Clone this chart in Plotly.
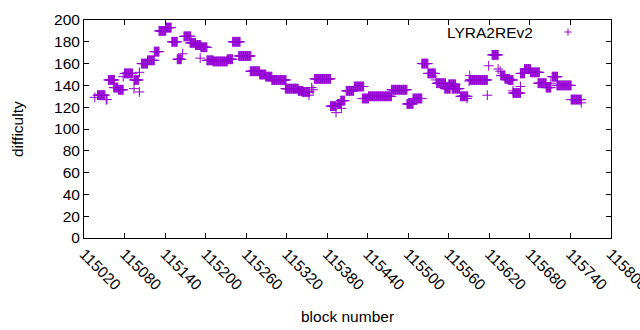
import plotly.graph_objects as go

# Runs of constant LYRA2REv2 difficulty: (first block, last block, difficulty)
run_start = [115036, 115040, 115053, 115056, 115064, 115071, 115078, 115080, 115094, 115094,
             115102, 115102, 115105, 115114, 115124, 115131, 115141,
             115150, 115158, 115166, 115168, 115177, 115185, 115192, 115193, 115202, 115211,
             115232, 115240, 115249, 115266,
             115280, 115289, 115298, 115318, 115331, 115337, 115343, 115353, 115357, 115359,
             115361, 115385, 115393, 115395, 115400, 115401,
             115408, 115420, 115432, 115441, 115475, 115498, 115507, 115520,
             115529, 115541, 115542, 115554, 115560, 115565, 115577, 115587, 115590, 115591,
             115591, 115617, 115619, 115624, 115633, 115636, 115637, 115643,
             115648, 115655, 115655, 115666, 115666, 115672, 115681, 115692, 115704, 115711,
             115713, 115720, 115741, 115756]
run_end = [115036, 115051, 115054, 115065, 115070, 115078, 115078, 115092, 115101, 115094,
           115102, 115102, 115114, 115124, 115131, 115141, 115149,
           115158, 115164, 115166, 115178, 115185, 115193, 115192, 115202, 115211, 115232,
           115240, 115251, 115267, 115280,
           115289, 115298, 115319, 115331, 115337, 115344, 115354, 115353, 115357, 115359,
           115385, 115393, 115393, 115400, 115406, 115401,
           115419, 115434, 115441, 115475, 115498, 115507, 115520, 115529,
           115540, 115541, 115555, 115562, 115570, 115576, 115588, 115587, 115590, 115591,
           115617, 115617, 115619, 115633, 115633, 115636, 115643, 115650,
           115655, 115655, 115666, 115666, 115672, 115681, 115694, 115704, 115711, 115711,
           115721, 115741, 115756, 115756]
run_value = [129, 131, 127, 145, 138, 136, 148, 151, 145, 137,
             152, 134, 160, 163, 171, 190, 193,
             180, 164, 169, 185, 179, 177, 165, 175, 163, 162,
             164, 180, 167, 153,
             150, 148, 145, 137, 137, 135, 134, 131, 138, 136,
             146, 121, 115, 123, 126, 119,
             135, 139, 128, 130, 136, 123, 128, 160,
             151, 145, 142, 137, 141, 137, 130, 128, 144, 149,
             145, 131, 158, 168, 155, 153, 149, 146,
             145, 135, 133, 139, 151, 155, 152, 142, 138, 142,
             148, 140, 127, 124]

x_ticks = list(range(115020, 115801, 60))
y_ticks = list(range(0, 201, 20))
series_name = "LYRA2REv2"

blocks, diffs = [], []
for s, e, v in zip(run_start, run_end, run_value):
    for b in range(s, e + 1):
        blocks.append(b)
        diffs.append(v)

COLOR = "#9400D3"
FONT = "Liberation Sans, Arial, sans-serif"
FS = 15.5

fig = go.Figure()
fig.add_trace(go.Scatter(
    x=blocks, y=diffs, mode="markers", name=series_name, showlegend=False,
    marker=dict(symbol="cross-thin", size=7, color=COLOR, line=dict(color=COLOR, width=1)),
))

L, R, T, B = 84, 29, 20, 92
fig.update_layout(
    width=640, height=330,
    margin=dict(l=L, r=R, t=T, b=B, pad=0, autoexpand=False),
    paper_bgcolor="white", plot_bgcolor="white",
    font=dict(family=FONT, size=FS, color="black"),
    showlegend=False,
)
fig.update_xaxes(
    range=[115020, 115800.05], tickmode="array", tickvals=x_ticks, ticktext=[str(t) for t in x_ticks],
    tickangle=45, ticks="inside", ticklen=5, tickcolor="black", ticklabeloverflow="allow",
    showline=True, linecolor="black", linewidth=1, mirror="ticks",
    showgrid=False, zeroline=False, automargin=False,
)
fig.update_yaxes(
    range=[0, 200], tickmode="array", tickvals=y_ticks,
    ticks="inside", ticklen=5, tickcolor="black",
    showline=True, linecolor="black", linewidth=1, mirror="ticks",
    showgrid=False, zeroline=False, automargin=False,
)

fig.add_annotation(text="block number", xref="paper", yref="paper", x=0.5, y=0,
                   yanchor="middle", yshift=-78, showarrow=False, font=dict(size=FS))
fig.add_annotation(text="difficulty", xref="paper", yref="paper", x=0, y=0.5,
                   xanchor="center", xshift=-67, textangle=-90, showarrow=False, font=dict(size=FS))
# legend entry (gnuplot style: text then sample)
fig.add_annotation(text=series_name, xref="paper", yref="paper", x=(535 - L) / 527, y=(238 - 32) / 218,
                   xanchor="right", yanchor="middle", showarrow=False, font=dict(size=FS))
lx, ly = (568 - L) / 527, (238 - 32) / 218
fig.add_shape(type="line", xref="paper", yref="paper", xsizemode="pixel", ysizemode="pixel",
              xanchor=lx, yanchor=ly, x0=-3.5, x1=3.5, y0=0, y1=0, line=dict(color=COLOR, width=1))
fig.add_shape(type="line", xref="paper", yref="paper", xsizemode="pixel", ysizemode="pixel",
              xanchor=lx, yanchor=ly, x0=0, x1=0, y0=-3.5, y1=3.5, line=dict(color=COLOR, width=1))

fig.write_html("out.html", config={"displayModeBar": False},
               post_script="document.body.style.margin='0';document.body.style.overflow='hidden';")
